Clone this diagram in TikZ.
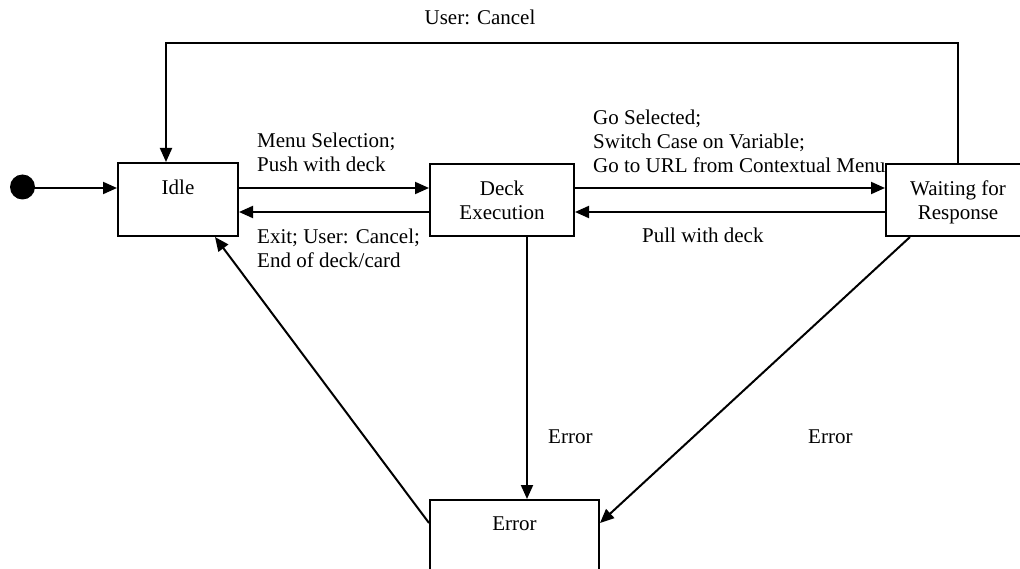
\documentclass[tikz,border=0pt]{standalone}
\usepackage{fontspec}
\setmainfont{Liberation Serif}
\usetikzlibrary{arrows.meta}
\begin{document}
\begin{tikzpicture}[x=1pt,y=-1pt,
  every node/.style={font=\fontsize{21}{24}\selectfont},
  state/.style={draw,line width=2pt,rectangle,inner sep=0pt,align=center},
  lbl/.style={inner sep=0pt,align=left,anchor=west},
  conn/.style={line width=2pt,-{Triangle[length=14pt,width=12pt]}},
  plain/.style={line width=2pt}]
\useasboundingbox (0,0) rectangle (1020,569);
\fill[white] (0,0) rectangle (1020,569);
% states
\node[state,minimum width=120pt,minimum height=73pt,
  label={[anchor=center,yshift=-25pt,inner sep=0pt]north:Idle}] (idle) at (178,199.5) {};
\node[state,minimum width=144pt,minimum height=72pt,
  label={[anchor=center,yshift=-37pt,inner sep=0pt,align=center]north:Deck\\Execution}] (deck) at (502,200) {};
\node[state,minimum width=144pt,minimum height=72pt,
  label={[anchor=center,yshift=-39pt,inner sep=0pt,align=center]north:Waiting for\\Response}] (wait) at (958,200) {};
\node[state,minimum width=169pt,minimum height=74pt,
  label={[anchor=center,yshift=-25pt,inner sep=0pt]north:Error}] (err) at (514.5,537) {};
\fill (22.5,187) circle (12.5);
\coordinate (init) at (22.5,188);
\coordinate (loopR) at (958,43);
\coordinate (loopL) at (166,43);
% connectors
\draw[conn] (init) -- (idle.west |- 0,188);
\draw[conn] (idle.east |- 0,188) -- (deck.west |- 0,188);
\draw[conn] (deck.west |- 0,212) -- (idle.east |- 0,212);
\draw[conn] (deck.east |- 0,188) -- (wait.west |- 0,188);
\draw[conn] (wait.west |- 0,212) -- (deck.east |- 0,212);
\draw[conn] (wait.north) -- (loopR) -- (loopL) -- (166,0 |- idle.north);
\draw[conn] (527,0 |- deck.south) -- (527,0 |- err.north);
\draw[conn] (910,0 |- wait.south) -- (err.east |- 0,523);
\draw[conn] (err.west |- 0,523) -- (215,0 |- idle.south);
% labels
\node[lbl] (l1) at (257,152.5) {Menu Selection;\\Push with deck};
\node[lbl] (l2) at (257,248.5) {Exit; User: Cancel;\\End of deck/card};
\node[lbl] (l3) at (593,141) {Go Selected;\\Switch Case on Variable;\\Go to URL from Contextual Menu};
\node[lbl] (l4) at (642,235) {Pull with deck};
\node[inner sep=0pt] (l5) at (480,17) {User: Cancel};
\node[lbl] (l6) at (548,437) {Error};
\node[lbl] (l7) at (808,437) {Error};
\end{tikzpicture}
\end{document}
